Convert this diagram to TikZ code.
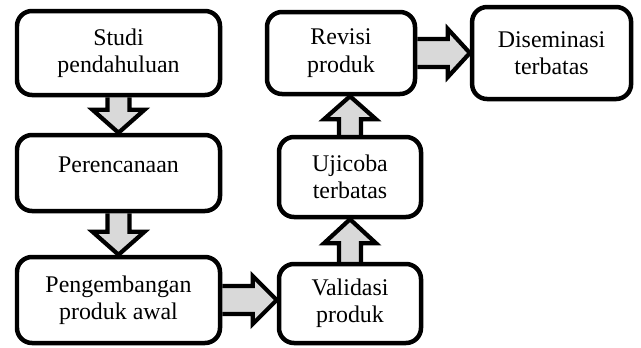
\documentclass[tikz,border=0pt]{standalone}
\usepackage{fontspec}
\setmainfont{Liberation Serif}
\usepackage{tikz}
\usetikzlibrary{calc,backgrounds}

% block arrow: from, to, shaft half width, head half width, head length
\newcommand{\blockarrow}[5]{%
  \begin{scope}[on background layer]
    \coordinate (hb) at ($(#2)!#5!(#1)$);
    \draw[fatarrow] ($(#1)!#3!90:(#2)$) -- ($(hb)!#3!90:(#2)$) -- ($(hb)!#4!90:(#2)$)
      -- (#2) -- ($(hb)!#4!-90:(#2)$) -- ($(hb)!#3!-90:(#2)$) -- ($(#1)!#3!-90:(#2)$);
  \end{scope}}

\begin{document}
\begin{tikzpicture}[
    stage/.style={draw, line width=3.2pt, rounded corners=0.375cm, fill=white,
      align=center, inner sep=2pt, font=\fontsize{17}{19.5}\selectfont},
    fatarrow/.style={draw, fill=black!15, line width=3pt, miter limit=4}]
  \useasboundingbox (0,0) rectangle (16.025,8.675);
  \node[stage, minimum width=5.075cm, minimum height=2.1cm] (studi) at (2.9625,7.35) {Studi\\pendahuluan};
  \node[stage, minimum width=5.075cm, minimum height=1.9cm] (renc) at (2.9625,4.35) {Perencanaan\\[-8pt]\mbox{}};
  \node[stage, minimum width=5.075cm, minimum height=2.15cm] (peng) at (2.9625,1.175) {Pengembangan\\produk awal};
  \node[stage, minimum width=3.55cm, minimum height=1.975cm] (valid) at (8.75,1.0875) {Validasi\\produk};
  \node[stage, minimum width=3.55cm, minimum height=2cm] (uji) at (8.75,4.25) {Ujicoba\\terbatas};
  \node[stage, minimum width=3.7cm, minimum height=2.05cm] (rev) at (8.525,7.35) {Revisi\\produk};
  \node[stage, minimum width=3.975cm, minimum height=2.3cm] (dis) at (13.79,7.35) {Diseminasi\\terbatas};
  \coordinate (revin) at (uji.north |- rev.south);
  \coordinate (validin) at (peng.east -| valid.west);
  \coordinate (disin) at (rev.east -| dis.west);
  \blockarrow{studi.south}{renc.north}{0.275cm}{0.65cm}{0.575cm}
  \blockarrow{renc.south}{peng.north}{0.275cm}{0.65cm}{0.575cm}
  \blockarrow{peng.east}{validin}{0.35cm}{0.6cm}{0.6cm}
  \blockarrow{valid.north}{uji.south}{0.275cm}{0.65cm}{0.6cm}
  \blockarrow{uji.north}{revin}{0.275cm}{0.65cm}{0.575cm}
  \blockarrow{rev.east}{disin}{0.35cm}{0.6cm}{0.55cm}
\end{tikzpicture}
\end{document}
